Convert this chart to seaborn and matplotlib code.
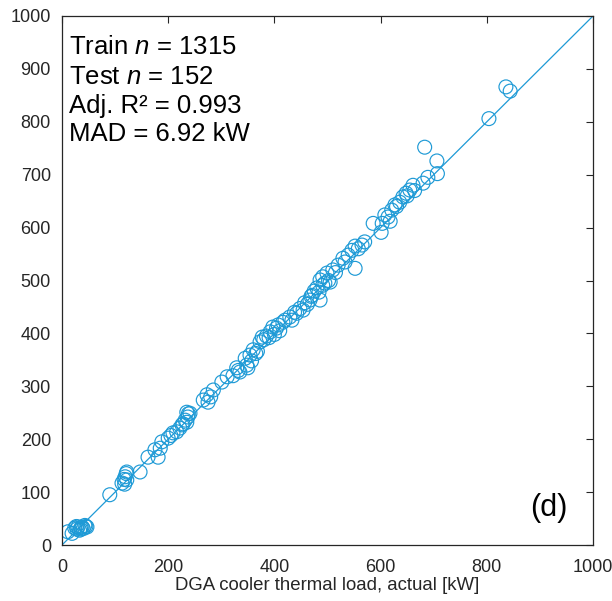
import matplotlib
matplotlib.use("Agg")
import matplotlib.pyplot as plt
import seaborn as sns
import pandas as pd

actual = [11, 19, 24, 28, 30, 33, 36, 38, 40, 43, 45, 47, 35, 27,
          90,
          113, 117, 119, 122, 122, 121, 118,
          147,
          162, 175, 181, 185, 188, 200, 205, 209, 216, 222, 226, 228, 232, 235, 237, 235, 238, 241,
          266, 273, 275, 280, 285, 301, 311, 322, 329, 335, 332, 345, 348, 350, 354, 357, 360, 365,
          368, 373, 377, 380, 385, 392, 390, 397, 400, 404, 407, 410, 416, 420, 429, 433, 438, 442,
          448, 454, 457, 462, 467, 469, 471, 475, 480, 484, 486, 486, 491, 491, 495, 499, 502, 505,
          510, 515, 520, 529, 533, 539, 546, 552, 552, 558, 565, 570, 586, 601, 603, 608, 614, 618,
          621, 627, 630, 636, 642, 648, 650, 655, 661, 664, 680, 683, 689, 706, 707, 804, 836, 844]
predicted = [25, 22, 32, 30, 34, 28, 33, 34, 31, 37, 35, 34, 30, 35,
             95,
             117, 124, 129, 123, 138, 135, 115,
             138,
             166, 180, 166, 183, 195, 202, 207, 212, 214, 221, 227, 229, 236, 232, 242, 251, 248, 249,
             274, 284, 270, 280, 293, 308, 318, 320, 335, 327, 330, 353, 340, 335, 359, 348, 369, 362,
             366, 384, 393, 388, 395, 403, 392, 412, 398, 410, 416, 405, 421, 425, 431, 425, 440, 438,
             447, 444, 458, 455, 463, 470, 472, 480, 486, 478, 463, 501, 491, 507, 495, 514, 500, 497,
             520, 515, 529, 542, 535, 548, 557, 565, 523, 560, 567, 573, 608, 591, 608, 624, 620, 612,
             633, 643, 640, 648, 658, 665, 660, 671, 680, 670, 684, 752, 695, 726, 702, 806, 866, 858]

ref_line = [0, 1000]
ticks = [0, 100, 200, 300, 400, 500, 600, 700, 800, 900, 1000]
xticks = [0, 200, 400, 600, 800, 1000]
stats_text = ["Train $n$ = 1315", "Test $n$ = 152", "Adj. R\u00b2 = 0.993", "MAD = 6.92 kW"]

sns.set_theme(style="white")
plt.rcParams['font.family'] = ['Liberation Sans', 'DejaVu Sans']
plt.rcParams['mathtext.fontset'] = 'custom'
plt.rcParams['mathtext.rm'] = 'Liberation Sans'
plt.rcParams['mathtext.it'] = 'Liberation Sans:italic'

color = "#1E9AD6"
axc = "#262626"

df = pd.DataFrame({"actual": actual, "predicted": predicted})

fig = plt.figure(figsize=(6.12, 6.01), dpi=100)
ax = fig.add_axes([62/612, 1-545/601, 531/612, 529/601])

sns.lineplot(x=ref_line, y=ref_line, ax=ax, color=color, linewidth=0.9)
sns.scatterplot(data=df, x="actual", y="predicted", ax=ax, marker='o', s=100,
                facecolors='none', edgecolor=color, linewidth=0.85)

ax.set_xlim(0, 1000)
ax.set_ylim(0, 1000)
ax.set_xticks(xticks)
ax.set_yticks(ticks)
ax.tick_params(direction='in', length=5, width=0.8, colors=axc, labelsize=13,
               top=True, right=True, labeltop=False, labelright=False)
ax.tick_params(axis='x', pad=10)
ax.tick_params(axis='y', pad=8)
for s in ax.spines.values():
    s.set_color(axc)
    s.set_linewidth(0.9)
ax.set_xlabel("DGA cooler thermal load, actual [kW]", fontsize=13.4, color=axc, labelpad=1)
ax.set_ylabel("")

ys = [47, 77, 106, 134]
for t, yp in zip(stats_text, ys):
    ax.text(69/612, 1-yp/601, t, transform=fig.transFigure, fontsize=18.5, color='black',
            ha='left', va='center')
fig.text(549/612, 1-508/601, "(d)", fontsize=22, color='black', ha='center', va='center')

fig.savefig("out.png", dpi=100)
